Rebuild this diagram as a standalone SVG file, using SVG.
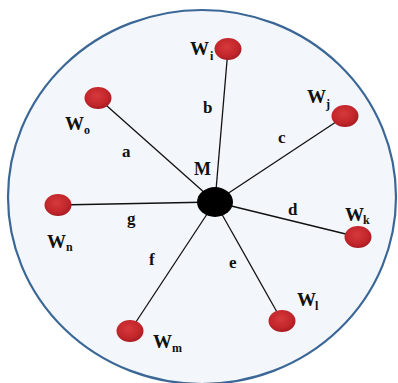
<svg xmlns="http://www.w3.org/2000/svg" width="398" height="383" viewBox="0 0 398 383">
<defs>
<radialGradient id="red" cx="45%" cy="40%" r="60%">
<stop offset="0" stop-color="#d7393b"/>
<stop offset="0.7" stop-color="#c2262b"/>
<stop offset="1" stop-color="#a81c22"/>
</radialGradient>
</defs>
<style>
.w{fill:url(#red);}
.lbl{font-family:"Liberation Serif",serif;font-weight:bold;fill:#111;}
.big{font-size:19px;}
.sub{font-size:12px;}
.edge{font-size:17px;}
.ln{stroke:#111;stroke-width:1.3;fill:none;}
</style>
<rect width="398" height="383" fill="#ffffff"/>
<ellipse cx="202" cy="197" rx="194" ry="187" fill="#f3f7fc" stroke="#3b6797" stroke-width="2.2"/>
<g id="connectors">
<line class="ln" x1="228" y1="49" x2="215" y2="202"/>
<line class="ln" x1="345" y1="116" x2="215" y2="202"/>
<line class="ln" x1="358" y1="237" x2="215" y2="202"/>
<line class="ln" x1="282" y1="321" x2="215" y2="202"/>
<line class="ln" x1="130" y1="331" x2="215" y2="202"/>
<line class="ln" x1="58" y1="205" x2="215" y2="202"/>
<line class="ln" x1="98" y1="98" x2="215" y2="202"/>
<text class="lbl edge" x="203" y="113">b</text>
<text class="lbl edge" x="278" y="143">c</text>
<text class="lbl edge" x="122" y="157">a</text>
<text class="lbl edge" x="288" y="215">d</text>
<text class="lbl edge" x="127" y="224">g</text>
<text class="lbl edge" x="149" y="265">f</text>
<text class="lbl edge" x="229" y="268">e</text>
</g>
<g id="M">
<ellipse cx="215" cy="202" rx="18" ry="15" fill="#000"/>
<text class="lbl" font-size="18" x="194" y="175">M</text>
</g>
<g id="Wi">
<ellipse class="w" cx="228" cy="49" rx="13.5" ry="11"/>
<text class="lbl big" x="190" y="55">W</text><text class="lbl sub" x="210" y="60">i</text>
</g>
<g id="Wj">
<ellipse class="w" cx="345" cy="116" rx="13.5" ry="11"/>
<text class="lbl big" x="307" y="103">W</text><text class="lbl sub" x="326" y="108">j</text>
</g>
<g id="Wk">
<ellipse class="w" cx="358" cy="237" rx="13.5" ry="11"/>
<text class="lbl big" x="345" y="221">W</text><text class="lbl sub" x="363" y="224">k</text>
</g>
<g id="Wl">
<ellipse class="w" cx="282" cy="321" rx="13.5" ry="11"/>
<text class="lbl big" x="297" y="306">W</text><text class="lbl sub" x="315" y="310">l</text>
</g>
<g id="Wm">
<ellipse class="w" cx="130" cy="331" rx="13.5" ry="11"/>
<text class="lbl big" x="153" y="348">W</text><text class="lbl sub" x="172" y="352">m</text>
</g>
<g id="Wn">
<ellipse class="w" cx="58" cy="205" rx="13.5" ry="11"/>
<text class="lbl big" x="47" y="248">W</text><text class="lbl sub" x="66" y="251">n</text>
</g>
<g id="Wo">
<ellipse class="w" cx="98" cy="98" rx="13.5" ry="11"/>
<text class="lbl big" x="65" y="130">W</text><text class="lbl sub" x="84" y="134">o</text>
</g>
</svg>
